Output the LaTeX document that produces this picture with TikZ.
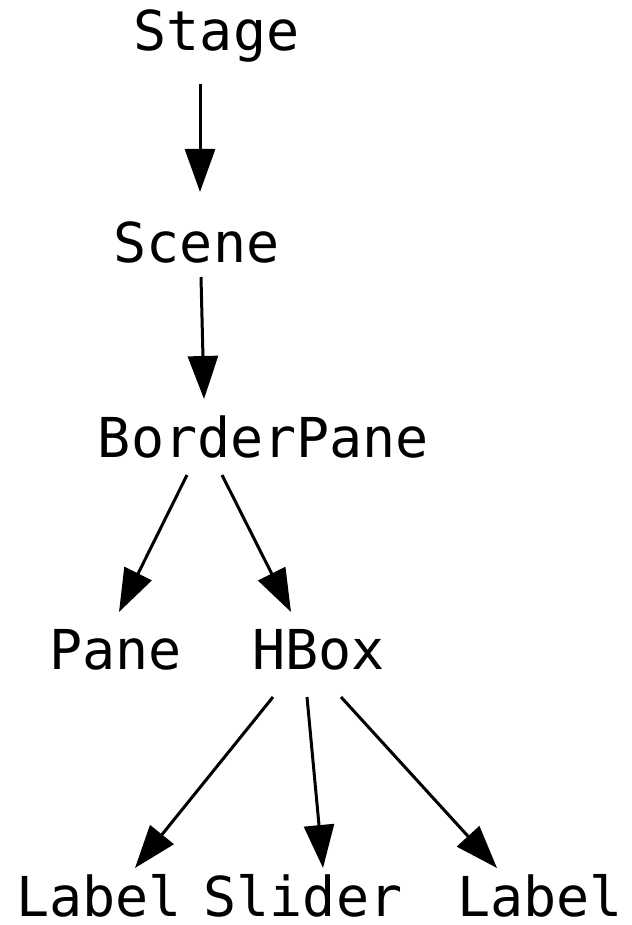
\documentclass[tikz,border=0pt]{standalone}
\usepackage{fontspec}
\setmonofont{DejaVu Sans Mono}
\usetikzlibrary{arrows.meta}
\begin{document}
\begin{tikzpicture}[x=1pt,y=1pt,
  item/.style={anchor=base, inner sep=0pt, font=\ttfamily\fontsize{55}{60}\selectfont},
  edge/.style={line width=3pt, -{Triangle[length=43pt,width=30pt]}}]
\useasboundingbox (0,0) rectangle (631,-925);
% tree nodes (x, baseline)
\node[item] (stage)  at (216.5,-51)  {Stage};
\node[item] (scene)  at (196.5,-262) {Scene};
\node[item] (bp)     at (263.5,-457) {BorderPane};
\node[item] (pane)   at (115.5,-669) {Pane};
\node[item] (hbox)   at (318.5,-669) {HBox};
\node[item] (label1) at (99,-916)    {Label};
\node[item] (slider) at (303,-916)   {Slider};
\node[item] (label2) at (540,-916)   {Label};
% parent -> child connectors
\draw[edge] ([shift={(-16.5,-33)}]stage.base) -- ([shift={(3.5,70)}]scene.base);
\draw[edge] ([shift={(4.5,-15)}]scene.base) -- ([shift={(-59.5,58)}]bp.base);
\draw[edge] ([shift={(-76.5,-18)}]bp.base) -- ([shift={(3.5,57)}]pane.base);
\draw[edge] ([shift={(-41.5,-18)}]bp.base) -- ([shift={(-27.5,57)}]hbox.base);
\draw[edge] ([shift={(-45.5,-28)}]hbox.base) -- ([shift={(36,48)}]label1.base);
\draw[edge] ([shift={(-11.5,-28)}]hbox.base) -- ([shift={(20,48)}]slider.base);
\draw[edge] ([shift={(22.5,-28)}]hbox.base) -- ([shift={(-43,48)}]label2.base);
\end{tikzpicture}
\end{document}
